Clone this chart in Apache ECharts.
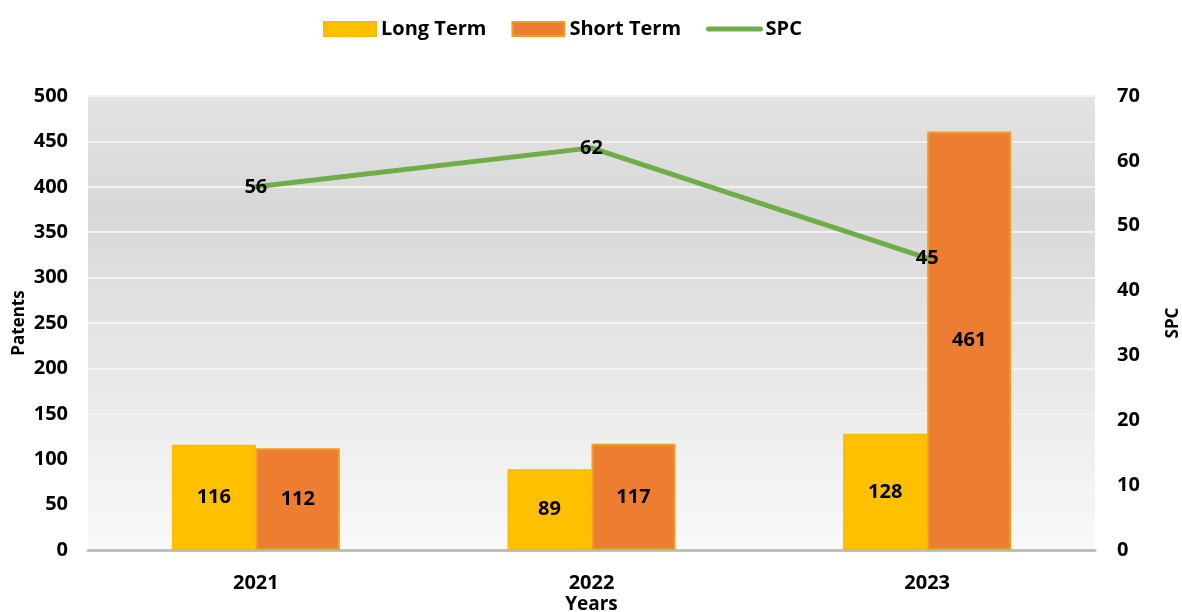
<!DOCTYPE html>
<html>
<head>
<meta charset="utf-8">
<script src="https://cdn.jsdelivr.net/npm/echarts@6/dist/echarts.min.js"></script>
<style>
    html, body { margin: 0; padding: 0; background: #fff; }
    #chart { width: 1182px; height: 612px; }
</style>
</head>
<body>
<div id="chart"></div>
<script>
// 数据
var years = ["2021", "2022", "2023"];
var longTerm = [116, 89, 128];
var shortTerm = [112, 117, 461];
var spc = [56, 62, 45];

var font = "'Open Sans', sans-serif";

var myChart = echarts.init(document.getElementById("chart"));
var option = {
    textStyle: { fontFamily: font },
    legend: {
        top: 14,
        left: 318,
        itemWidth: 52,
        itemHeight: 14,
        itemGap: 25,
        textStyle: { color: "#000", fontSize: 20, fontWeight: "bold", fontFamily: font },
        data: [
            { name: "Long Term", icon: "rect" },
            { name: "Short Term", icon: "rect" },
            { name: "SPC", itemStyle: { opacity: 0 }, lineStyle: { width: 5, color: "#70ad47", cap: "round" } }
        ]
    },
    grid: {
        left: 88,
        right: 87,
        top: 96,
        bottom: 62,
        outerBoundsMode: "none",
        containLabel: false,
        show: true,
        borderWidth: 0,
        // 渐变背景
        backgroundColor: new echarts.graphic.LinearGradient(0, 0, 0, 1, [
            { offset: 0, color: "#e3e3e3" },
            { offset: 0.25, color: "#d8d8d8" },
            { offset: 1, color: "#f9f9f9" }
        ])
    },
    xAxis: {
        type: "category",
        data: years,
        name: "Years",
        nameLocation: "middle",
        nameGap: 45,
        nameMoveOverlap: false,
        nameTextStyle: { color: "#000", fontSize: 19, fontWeight: "bold", fontFamily: font },
        axisTick: { show: false },
        axisLine: { lineStyle: { color: "#bfbfbf", width: 3 } },
        axisLabel: { color: "#000", fontSize: 20, fontWeight: "bold", margin: 23, fontFamily: font }
    },
    yAxis: [
        {
            type: "value",
            min: 0,
            max: 500,
            interval: 50,
            name: "Patents",
            nameLocation: "middle",
            nameGap: 60,
            nameMoveOverlap: false,
            nameTextStyle: { color: "#000", fontSize: 17, fontWeight: "bold", fontFamily: font },
            axisLine: { show: false },
            axisTick: { show: false },
            axisLabel: { color: "#000", fontSize: 20, fontWeight: "bold", margin: 20, fontFamily: font },
            splitLine: { lineStyle: { color: "#f2f2f2", width: 2 } }
        },
        {
            type: "value",
            min: 0,
            max: 70,
            interval: 10,
            name: "SPC",
            nameLocation: "middle",
            nameGap: 70,
            nameRotate: 90,
            nameTextStyle: { color: "#000", fontSize: 17, fontWeight: "bold", fontFamily: font },
            axisLine: { show: false },
            axisTick: { show: false },
            axisLabel: { color: "#000", fontSize: 20, fontWeight: "bold", margin: 22, fontFamily: font },
            splitLine: { show: false }
        }
    ],
    series: [
        {
            name: "Long Term",
            type: "bar",
            data: longTerm,
            barWidth: 84,
            barGap: "0%",
            itemStyle: { color: "#ffc000", borderColor: "#f7b800", borderWidth: 1 },
            label: {
                show: true,
                position: "inside",
                color: "#000",
                fontSize: 20,
                fontWeight: "bold",
                fontFamily: font
            }
        },
        {
            name: "Short Term",
            type: "bar",
            data: shortTerm,
            barWidth: 84,
            barGap: "0%",
            itemStyle: {
                color: "#ed7d31",
                borderColor: "#f39c22",
                borderWidth: 2
            },
            label: {
                show: true,
                position: "inside",
                color: "#000",
                fontSize: 20,
                fontWeight: "bold",
                fontFamily: font
            }
        },
        {
            name: "SPC",
            type: "line",
            yAxisIndex: 1,
            data: spc,
            symbol: "circle",
            symbolSize: 1,
            itemStyle: { color: "#70ad47" },
            lineStyle: { color: "#70ad47", width: 5, cap: "round" },
            label: {
                show: true,
                position: "inside",
                color: "#000",
                fontSize: 20,
                fontWeight: "bold",
                fontFamily: font
            },
            z: 5
        }
    ]
};
myChart.setOption(option);
window.addEventListener("resize", function () {
    myChart.resize();
});
</script>
</body>
</html>
